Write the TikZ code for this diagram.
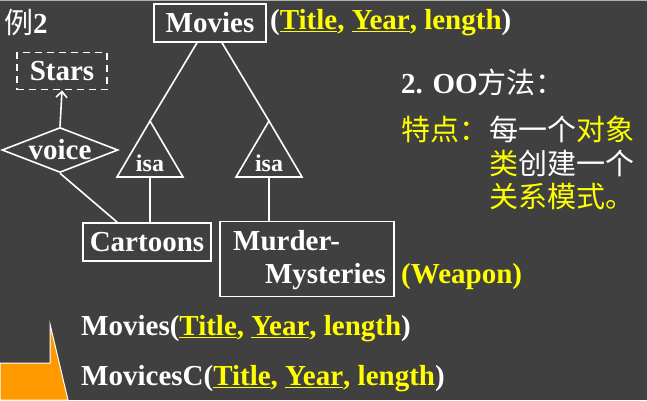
\documentclass[tikz,border=0pt]{standalone}
\usepackage{fontspec}
\setmainfont{Liberation Serif}
\newfontfamily\cjk{Noto Sans CJK SC}
\usetikzlibrary{shapes.geometric,arrows.meta}
\definecolor{slide}{RGB}{64,64,64}
\definecolor{hl}{RGB}{255,255,0}
\definecolor{pointer}{RGB}{255,153,0}
\newcommand{\zh}[1]{{\cjk\mdseries #1}}
\newcommand{\key}[1]{\underline{#1}}
\tikzset{
  every node/.style={font=\bfseries\fontsize{29}{33}\selectfont, text=white},
  entity/.style={draw=white, line width=1.6pt, inner sep=0pt},
  txt/.style={inner sep=0pt, anchor=west},
  edge/.style={draw=white, line width=1.6pt}
}
\begin{document}
\begin{tikzpicture}[x=1pt,y=-1pt]
        \useasboundingbox (0,0) rectangle (647,400);
        \fill[slide] (0,0) rectangle (647,400);
        \draw[gray!60, line width=1pt] (0,0.5) -- (647,0.5);
        % entities
        \node[entity, minimum width=112, minimum height=38] (movies) at (210,23) {Movies};
        \node[entity, dashed, dash pattern=on 7pt off 5pt, minimum width=90, minimum height=37] (stars) at (62,71) {Stars};
        \node[entity, shape=diamond, aspect=2.6, minimum width=116, minimum height=45] (voice) at (60,150) {voice};
        \node[entity, minimum width=128, minimum height=38] (cartoons) at (147,242) {Cartoons};
        \node[entity, minimum width=174, minimum height=75] (murder) at (307,259) {};
        \node[txt] (murder1) at (233,241) {Murder-};
        \node[txt, anchor=east] (murder2) at (386,277) {Mysteries};
        % isa triangles
        \node[font=\bfseries\fontsize{24}{28}\selectfont, inner sep=0pt] (isaL) at (150,163) {isa};
        \node[font=\bfseries\fontsize{24}{28}\selectfont, inner sep=0pt] (isaR) at (269,163) {isa};
        \coordinate (topL) at (150,121);
        \coordinate (topR) at (269,121);
        \draw[edge] (topL) -- (117,177) -- (183,177) -- cycle;
        \draw[edge] (topR) -- (236,177) -- (302,177) -- cycle;
        % connectors
        \draw[edge] ([xshift=-13pt]movies.south) -- (topL);
        \draw[edge] ([xshift=12pt]movies.south) -- (topR);
        \draw[edge] (isaL.south |- 0,177) -- (isaL.south |- cartoons.north);
        \draw[edge] (isaR.south |- 0,177) -- (isaR.south |- murder.north);
        \draw[edge] (voice.south) -- ([xshift=35pt]cartoons.north west);
        \draw[edge, -{Straight Barb[length=6pt,width=11pt]}] (voice.north) -- (stars.south);
        % attributes
        \node[txt] (attr) at (270,23) {(\textcolor{hl}{\key{Title}, \key{Year}, length})};
        \node[txt] (weapon) at (401,277) {\textcolor{hl}{(Weapon)}};
        \node[txt] (ex) at (4,23) {\zh{例}2};
        % relations
        \node[txt] (relM) at (81,329) {Movies(\textcolor{hl}{\key{Title}, \key{Year}, length})};
        \node[txt] (relC) at (81,379) {MovicesC(\textcolor{hl}{\key{Title}, \key{Year}, length})};
        \filldraw[fill=pointer, draw=white!85, line width=1pt] (0,363) -- (50,363) -- (50,324) -- (68,400) -- (0,400) -- cycle;
        % right column
        \node[txt] (oo) at (401,82) {2. OO\zh{方法：}};
        \node[txt] (feat) at (401,129) {\zh{\textcolor{hl}{特点：}}};
        \node[txt] (line1) at (489,129) {\zh{每一个\textcolor{hl}{对象}}};
        \node[txt] (line2) at (489,163) {\zh{\textcolor{hl}{类}创建一个}};
        \node[txt] (line3) at (489,197) {\zh{\textcolor{hl}{关系模式。}}};
    \end{tikzpicture}
\end{document}
